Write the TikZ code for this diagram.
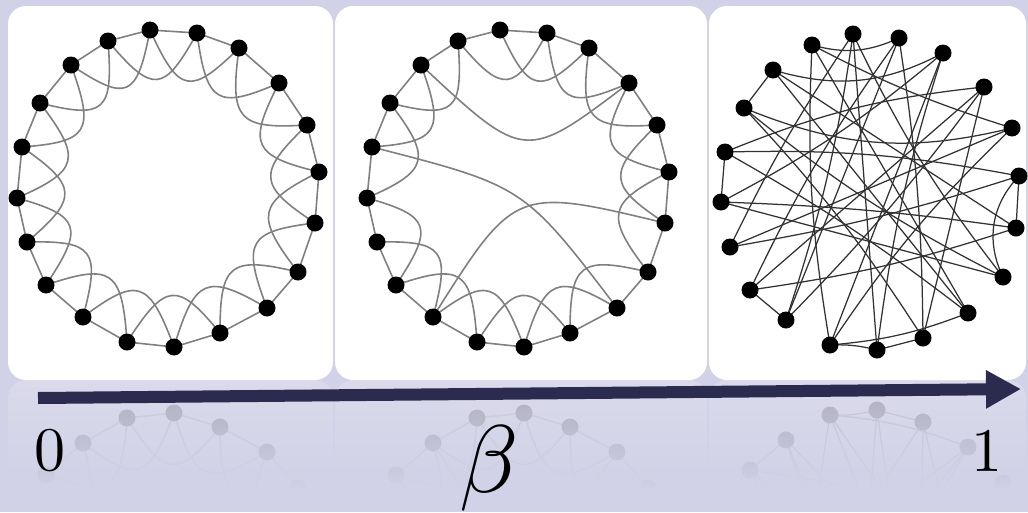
\documentclass[tikz,border=0pt]{standalone}
\usetikzlibrary{arrows.meta,calc,fadings}
\definecolor{bgcol}{RGB}{209,209,231}
\definecolor{navy}{RGB}{43,43,80}
\definecolor{edgegrey}{RGB}{128,128,128}
\definecolor{edgedark}{RGB}{50,50,50}
\colorlet{reflpanel}{bgcol!70!white}
\colorlet{refldot}{reflpanel!70!black}
\colorlet{refledge}{reflpanel!75!edgegrey}
\colorlet{refledged}{reflpanel!80!edgedark}
\tikzfading[name=reflfade, top color=transparent!68, bottom color=transparent!0]
\tikzset{
  panel/.style={fill=white, rounded corners=18pt},
  dot/.style={circle, fill=black, inner sep=0pt, minimum size=17pt},
  latedge/.style={draw=edgegrey, line width=1.6pt},
  randedge/.style={draw=edgedark, line width=1.25pt},
  arrowline/.style={draw=navy, line width=12pt, -{Triangle[length=35pt,width=36pt]}},
  bigtext/.style={inner sep=0pt, text=black},
}
\newcommand\drawnets[1]{%
  \fill[panel] (8,6) rectangle (333,380);
  \fill[panel] (335,6) rectangle (707,380);
  \fill[panel] (709,6) rectangle (1026,380);
  \foreach \x/\y [count=\i from 0] in {150/30,197/33,239/48,279/83,307/125,319/172,315/223,298/272,267/308,220/333,174/347,127/342,83/317,46/285,27/242,17/198,22/147,40/103,71/65,108/41} {
    \coordinate (#1a\i) at (\x,\y);
    \coordinate (#1b\i) at (\x+350,\y);
  }
  \foreach \x/\y [count=\i from 0] in {853/34,899/38,943/53,984/87,1012/128,1019/176,1016/228,1003/277,968/313,923/338,877/350,830/345,786/320,750/290,730/247,721/202,725/152,744/108,773/70,812/45} {
    \coordinate (#1c\i) at (\x,\y);
  }
  \coordinate (#1ca) at (168,188);
  \coordinate (#1cb) at (518,188);
  % panel 1: ring lattice
  \foreach \i in {0,...,19} {
    \pgfmathtruncatemacro\j{mod(\i+1,20)}
    \pgfmathtruncatemacro\k{mod(\i+2,20)}
    \draw[latedge] (#1a\i) -- (#1a\j);
    \draw[latedge] (#1a\i) .. controls ($(#1a\i)!.5!(#1ca)!.25!(#1a\k)$) and ($(#1a\k)!.5!(#1ca)!.25!(#1a\i)$) .. (#1a\k);
    \draw[latedge] (#1b\i) -- (#1b\j);
  }
  % panel 2: rewired lattice
  \foreach \i in {0,1,2,3,4,5,7,8,9,10,11,12,13,15,16,17,19} {
    \pgfmathtruncatemacro\k{mod(\i+2,20)}
    \draw[latedge] (#1b\i) .. controls ($(#1b\i)!.5!(#1cb)!.25!(#1b\k)$) and ($(#1b\k)!.5!(#1cb)!.25!(#1b\i)$) .. (#1b\k);
  }
  \draw[latedge] (#1b18) .. controls (525,162) .. (#1b3);
  \draw[latedge] (#1b16) .. controls (524,186) .. (#1b8);
  \draw[latedge] (#1b6) .. controls (515,187) .. (#1b12);
  % panel 3: random graph
  \foreach \u/\v/\b in {0/10/0,0/7/6,0/12/-5,0/14/4,1/12/0,1/13/5,1/9/-4,19/1/20,18/2/22,2/11/0,2/15/-6,2/10/5,3/13/0,3/16/8,3/12/-4,3/9/0,17/4/18,4/14/0,4/11/6,4/19/-5,5/16/6,5/6/0,5/7/35,5/14/-4,6/15/3,6/13/-5,6/18/0,7/15/0,7/17/-6,8/18/0,8/16/4,8/11/-8,8/19/0,9/10/0,9/17/5,10/11/8,11/19/-6,12/13/0,17/18/0,15/16/0} {
    \draw[randedge] (#1c\u) to[bend right=\b] (#1c\v);
  }
  \foreach \i in {0,...,19} {
    \node[dot] (#1da\i) at (#1a\i) {};
    \node[dot] (#1db\i) at (#1b\i) {};
    \node[dot] (#1dc\i) at (#1c\i) {};
  }
}
\begin{document}
\begin{tikzpicture}[x=1pt,y=-1pt]
\useasboundingbox (0,0) rectangle (1028,512);
\clip (0,0) rectangle (1028,512);
\fill[bgcol] (0,0) rectangle (1028,512);
% reflection
\begin{scope}
  \clip (0,378) rectangle (1028,488);
  \begin{scope}[shift={(0,760)}, yscale=-1,
      panel/.style={fill=reflpanel, rounded corners=18pt},
      dot/.style={circle, fill=refldot, inner sep=0pt, minimum size=17pt},
      latedge/.style={draw=refledge, line width=1.6pt},
      randedge/.style={draw=refledged, line width=1.25pt}]
    \drawnets{r}
  \end{scope}
\end{scope}
\fill[bgcol, path fading=reflfade] (0,380) rectangle (1028,490);
% main panels
\drawnets{}
% axis arrow
\coordinate (as) at (38,398);
\coordinate (ae) at (1021,389);
\draw[arrowline] (as) -- (ae);
\node[bigtext, scale=6.2] (zero) at (50,451) {0};
\node[bigtext, scale=6.2] (one) at (987,451) {1};
\node[bigtext, scale=9.6] (beta) at (489,468) {$\beta$};
\end{tikzpicture}
\end{document}
